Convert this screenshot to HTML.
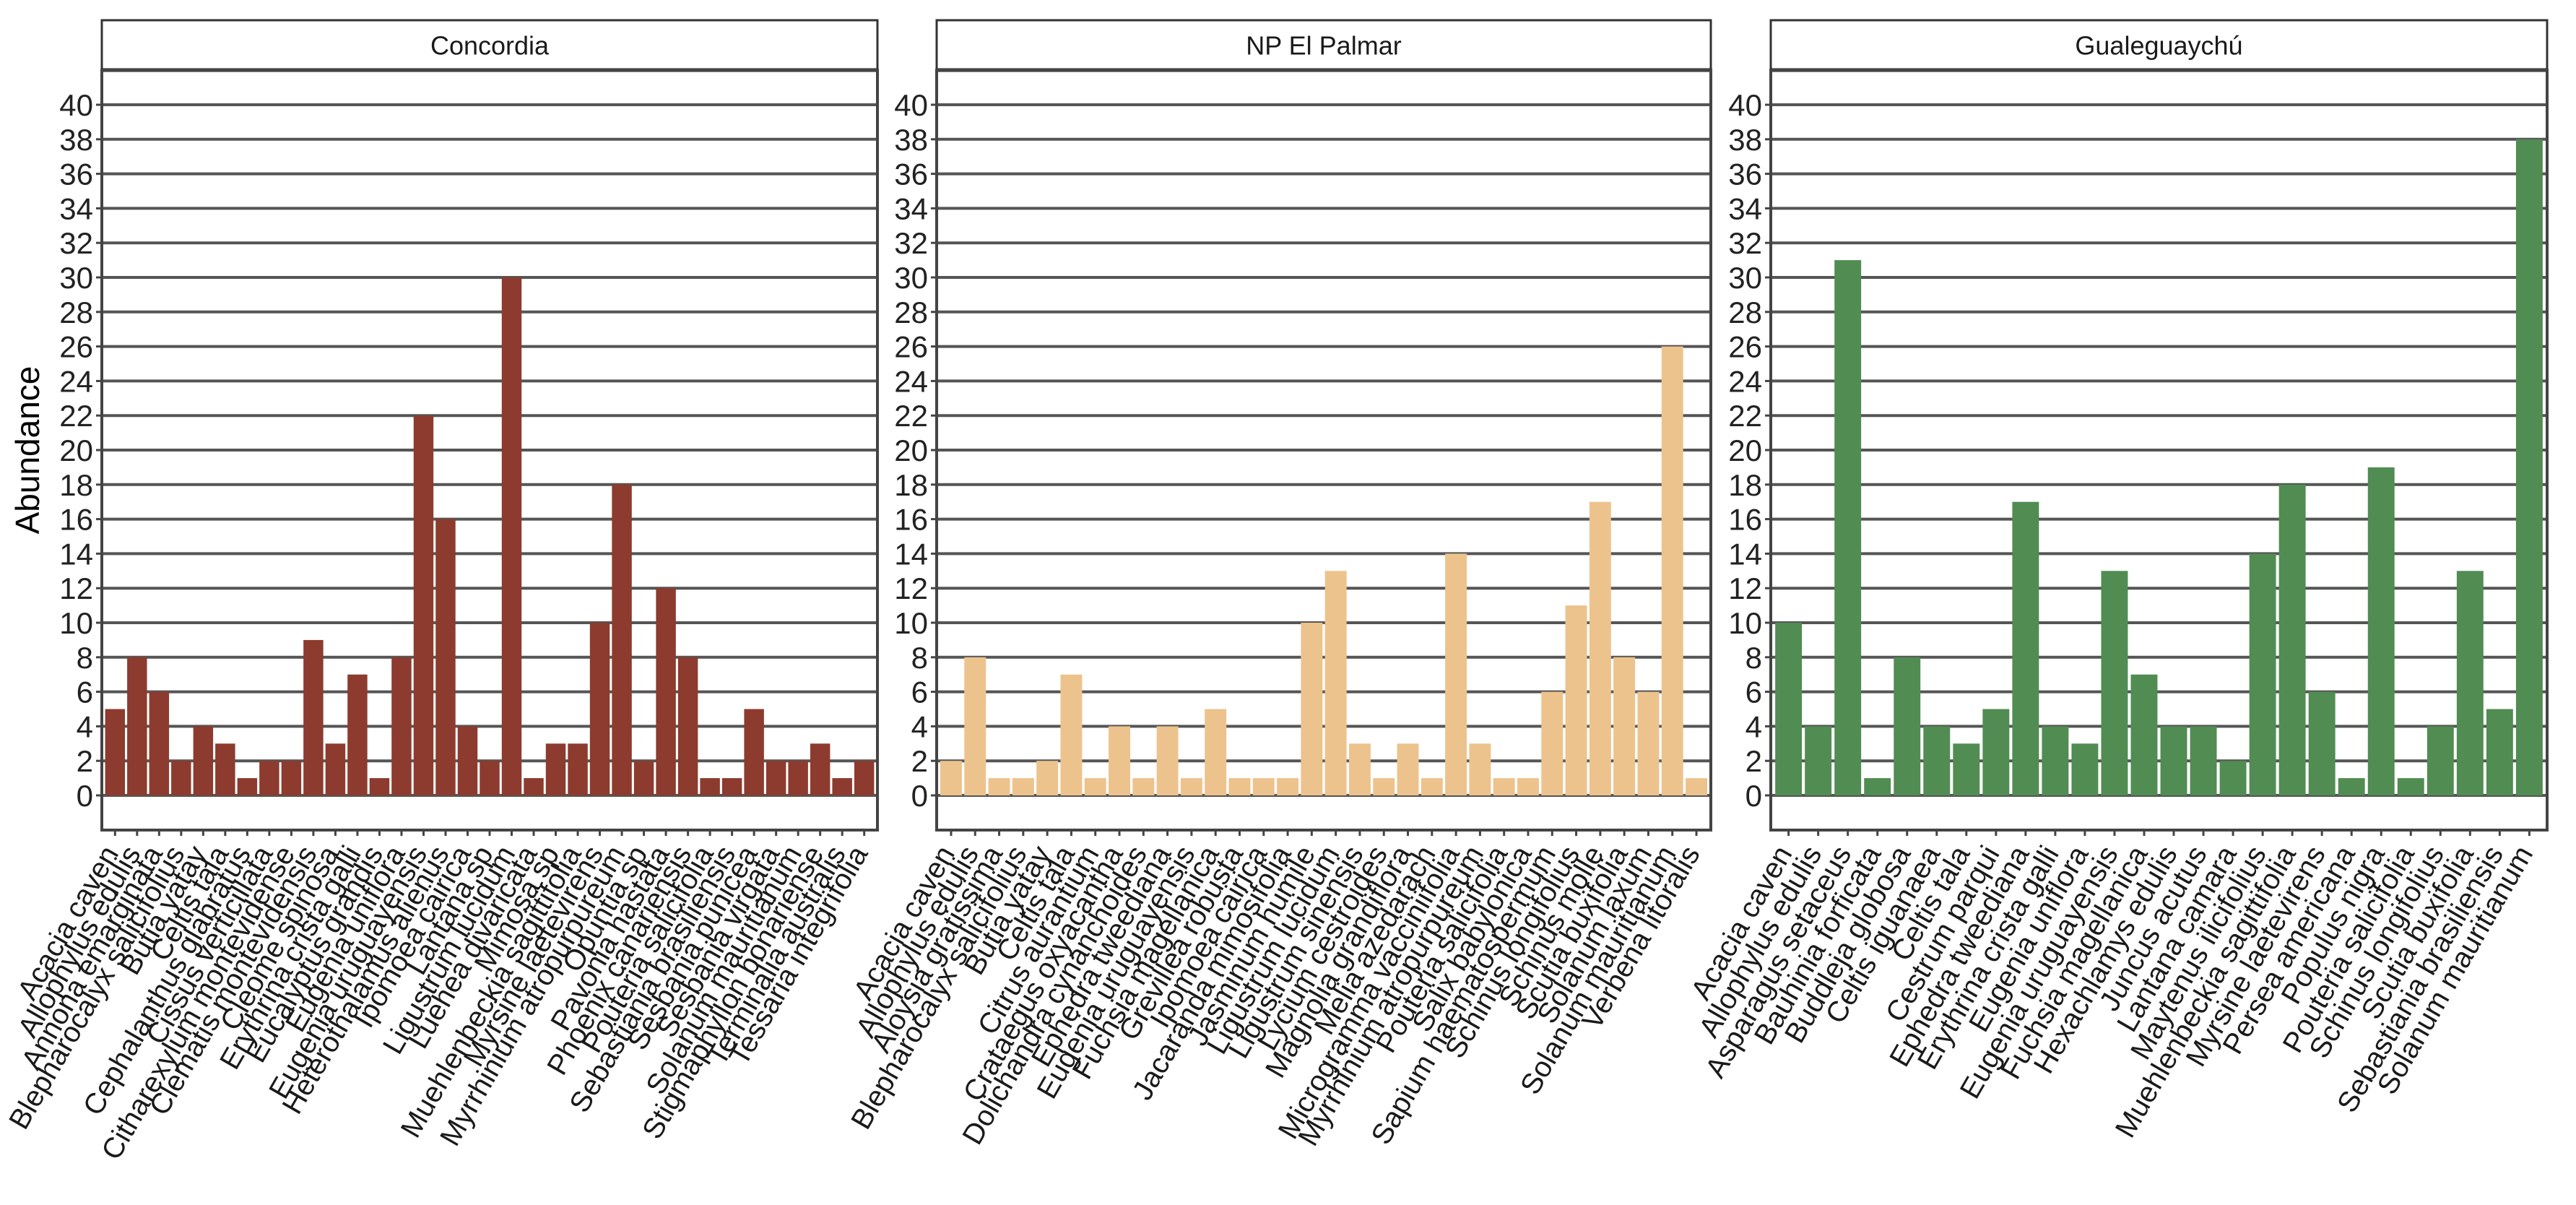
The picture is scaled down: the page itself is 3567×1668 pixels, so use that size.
<!DOCTYPE html>
<html><head><meta charset="utf-8"><style>
html,body{margin:0;padding:0;background:#fff;}
svg{display:block;font-family:"Liberation Sans",Arial,sans-serif;}
</style></head><body>
<svg id="chart" width="3567" height="1668" viewBox="0 0 3567 1668" xmlns="http://www.w3.org/2000/svg">
<text x="54" y="623" font-size="46" fill="#000" text-anchor="middle" transform="rotate(-90 54 623)">Abundance</text>
</svg>
<script>
const yTicks = [0,2,4,6,8,10,12,14,16,18,20,22,24,26,28,30,32,34,36,38,40];
const panelTitles = ["Concordia","NP El Palmar","Gualeguaychú"];
const concordiaSpecies = ["Acacia caven","Allophylus edulis","Annona emarginata","Blepharocalyx salicifolius","Butia yatay","Celtis tala","Cephalanthus glabratus","Cissus verticillata","Citharexylum montevidense","Clematis montevidensis","Cleome spinosa","Erythrina crista galli","Eucalyptus grandis","Eugenia uniflora","Eugenia uruguayensis","Heterothalamus alienus","Ipomoea cairica","Lantana sp","Ligustrum lucidum","Luehea divaricata","Mimosa sp","Muehlenbeckia sagittifolia","Myrsine laetevirens","Myrrhinium atropurpureum","Opuntia sp","Pavonia hastata","Phoenix canariensis","Pouteria salicifolia","Sebastiania brasiliensis","Sesbania punicea","Sesbania virgata","Solanum mauritianum","Stigmaphyllon bonariense","Terminalia australis","Tessaria integrifolia"];
const concordiaValues = [5,8,6,2,4,3,1,2,2,9,3,7,1,8,22,16,4,2,30,1,3,3,10,18,2,12,8,1,1,5,2,2,3,1,2];
const palmarSpecies = ["Acacia caven","Allophylus edulis","Aloysia gratissima","Blepharocalyx salicifolius","Butia yatay","Celtis tala","Citrus aurantium","Crataegus oxyacantha","Dolichandra cynanchoides","Ephedra tweediana","Eugenia uruguayensis","Fuchsia magellanica","Grevillea robusta","Ipomoea cairica","Jacaranda mimosifolia","Jasminum humile","Ligustrum lucidum","Ligustrum sinensis","Lycium cestroides","Magnolia grandiflora","Melia azedarach","Microgramma vacciniifolia","Myrrhinium atropurpureum","Pouteria salicifolia","Salix babylonica","Sapium haematospermum","Schinus longifolius","Schinus molle","Scutia buxifolia","Solanum laxum","Solanum mauritianum","Verbena litoralis"];
const palmarValues = [2,8,1,1,2,7,1,4,1,4,1,5,1,1,1,10,13,3,1,3,1,14,3,1,1,6,11,17,8,6,26,1];
const gualeSpecies = ["Acacia caven","Allophylus edulis","Asparagus setaceus","Bauhinia forficata","Buddleja globosa","Celtis iguanaea","Celtis tala","Cestrum parqui","Ephedra tweediana","Erythrina crista galli","Eugenia uniflora","Eugenia uruguayensis","Fuchsia magellanica","Hexachlamys edulis","Juncus acutus","Lantana camara","Maytenus ilicifolius","Muehlenbeckia sagittifolia","Myrsine laetevirens","Persea americana","Populus nigra","Pouteria salicifolia","Schinus longifolius","Scutia buxifolia","Sebastiania brasiliensis","Solanum mauritianum"];
const gualeValues = [10,4,31,1,8,4,3,5,17,4,3,13,7,4,4,2,14,18,6,1,19,1,4,13,5,38];

const NS = "http://www.w3.org/2000/svg";
const svg = document.getElementById("chart");
const panels = [
  {x0:141, x1:1215, cats:concordiaSpecies, vals:concordiaValues, color:"#8C3B2E", key:"concordia"},
  {x0:1297, x1:2369, cats:palmarSpecies, vals:palmarValues, color:"#EDC38D", key:"np-el-palmar"},
  {x0:2452, x1:3527, cats:gualeSpecies, vals:gualeValues, color:"#518C52", key:"gualeguaychu"}
];
const Y0 = 1101, Y40 = 145, panelTop = 97, panelBottom = 1149, stripTop = 28;
function yScale(v){ return Y0 + (Y40 - Y0) * v / 40; }
function mk(tag, attrs, parent){
  const e = document.createElementNS(NS, tag);
  for (const k in attrs) e.setAttribute(k, attrs[k]);
  (parent || svg).appendChild(e);
  return e;
}
panels.forEach((p, pi) => {
  const g = mk("g", {});
  
  
  const n = p.cats.length;
  const band = (p.x1 - p.x0) / (n + 0.2);
  const xScale = i => p.x0 + (i + 0.6) * band;
  const strip = mk("rect", {x:p.x0, y:stripTop, width:p.x1-p.x0, height:panelTop-stripTop, fill:"#fff", stroke:"#333", "stroke-width":3}, g);
  
  
  mk("line", {x1:p.x0, x2:p.x1, y1:panelTop, y2:panelTop, stroke:"#111", "stroke-width":5}, g);
  const st = mk("text", {x:(p.x0+p.x1)/2, y:(stripTop+panelTop)/2+13, "font-size":36, "text-anchor":"middle", fill:"#1a1a1a"}, g);
  st.textContent = panelTitles[pi];
  
  
  yTicks.forEach(t => {
    const y = yScale(t);
    const gl = mk("line", {x1:p.x0, x2:p.x1, y1:y, y2:y, stroke:"#555", "stroke-width":4}, g);
    
    
    mk("line", {x1:p.x0-8, x2:p.x0, y1:y, y2:y, stroke:"#444", "stroke-width":3}, g);
    const tl = mk("text", {x:p.x0-12, y:y+15, "font-size":42, "text-anchor":"end", fill:"#222"}, g);
    tl.textContent = t;
    
    
  });
  p.vals.forEach((v, i) => {
    const cx = xScale(i);
    const w = band * 0.9;
    const b = mk("rect", {x:cx-w/2, y:yScale(v), width:w, height:yScale(0)-yScale(v), fill:p.color}, g);
    
    
    mk("line", {x1:cx, x2:cx, y1:panelBottom, y2:panelBottom+8, stroke:"#444", "stroke-width":3}, g);
    const lx = cx + 6, ly = panelBottom + 32;
    const xl = mk("text", {x:lx, y:ly, "font-size":40, "text-anchor":"end", fill:"#1a1a1a", transform:"rotate(-60 "+lx+" "+ly+")"}, g);
    xl.textContent = p.cats[i];
    
    
  });
  mk("rect", {x:p.x0, y:panelTop, width:p.x1-p.x0, height:panelBottom-panelTop, fill:"none", stroke:"#444", "stroke-width":4}, g);
});
</script>
</body></html>
